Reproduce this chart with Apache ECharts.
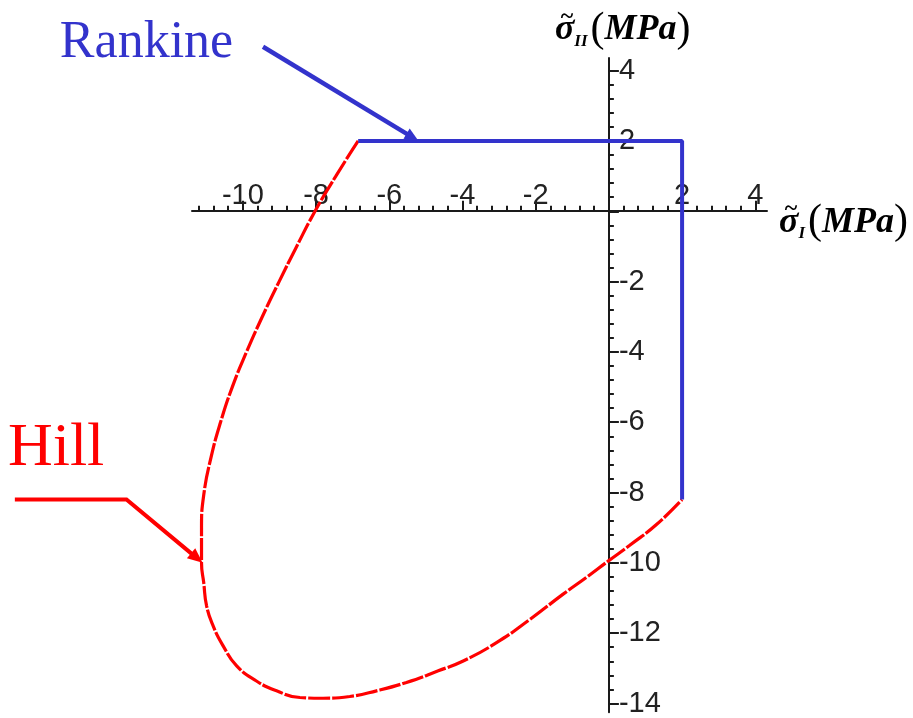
<!DOCTYPE html>
<html>
<head>
<meta charset="utf-8">
<script src="https://cdn.jsdelivr.net/npm/echarts@6/dist/echarts.min.js"></script>
<style>
  html, body { margin: 0; padding: 0; background: #ffffff; }
  #chart { width: 913px; height: 718px; }
</style>
</head>
<body>
<div id="chart"></div>
<script>
// Hill yield locus in the principal effective stress plane (MPa)
const hillSigmaI = [-6.85, -7.46, -8.03, -8.53, -9.01, -9.47, -9.90, -10.29, -10.61, -10.87,
  -11.06, -11.13, -11.13, -11.07, -10.99, -10.81, -10.54, -10.17, -9.63, -9.08,
  -8.44, -7.81, -7.08, -6.35, -5.53, -4.66, -3.98, -3.07, -2.16, -1.25,
  -0.61, -0.02, 0.57, 1.30, 2.0];
const hillSigmaII = [2.0, 1.0, 0.0, -1.0, -2.0, -3.0, -4.0, -5.0, -6.0, -7.0,
  -8.0, -9.0, -10.0, -10.56, -11.23, -11.80, -12.36, -12.93, -13.36, -13.64,
  -13.83, -13.85, -13.80, -13.64, -13.40, -13.07, -12.79, -12.27, -11.61, -10.89,
  -10.41, -9.95, -9.50, -8.91, -8.2];

// Rankine (maximum principal stress) locus
const rankineSigmaI = [-6.85, 2, 2];
const rankineSigmaII = [2, 2, -8.2];

// Axis tick labels
const xTickLabels = [-10, -8, -6, -4, -2, 2, 4];
const yTickLabels = [4, 2, -2, -4, -6, -8, -10, -12, -14];

// Annotation anchors (data units): arrow paths and label positions
const rankineArrow = [[-9.45, 4.68], [-5.2, 2.0]];
const hillArrow = [[-16.23, -8.2], [-13.18, -8.2], [-11.1, -10.0]];
const rankineLabelAt = [-15.0, 4.79];
const hillLabelAt = [-16.42, -6.75];

const xExtent = [-11.39, 4.32];
const yExtent = [-14.25, 4.36];

const BLUE = '#3333cc';
const RED = '#ff0000';
const INK = '#1a1a1a';

const GRID = { left: 192, right: 146, top: 58, bottom: 5 };
const W = 913, H = 718;

function stepValues(lo, hi, step) {
  const out = [];
  for (let k = Math.ceil(lo / step - 1e-9); k * step <= hi + 1e-9; k++) {
    out.push(Math.round(k * step * 10) / 10);
  }
  return out;
}
const pairs = (xs, ys) => xs.map((v, i) => [v, ys[i]]);

// The axes cross at the origin: shift each axis from the grid edge to the zero line.
const gridW = W - GRID.left - GRID.right;
const gridH = H - GRID.top - GRID.bottom;
const xAxisShift = -gridH * (0 - yExtent[0]) / (yExtent[1] - yExtent[0]);
const yAxisShift = -gridW * (0 - xExtent[0]) / (xExtent[1] - xExtent[0]);

const labelFont = { fontFamily: 'Liberation Sans', fontSize: 29, color: '#222', lineHeight: 29 };

function makeAxis(extent, position, shift, labels, major, minor) {
  const lineStyle = { color: INK, width: 2 };
  return [
    {
      type: 'value', position, offset: shift, min: extent[0], max: extent[1],
      splitLine: { show: false },
      axisLine: { show: true, onZero: false, lineStyle },
      axisTick: { show: true, inside: true, length: 10, customValues: major, lineStyle },
      axisLabel: Object.assign({ show: true, inside: true, margin: position === 'bottom' ? 0 : 10, customValues: labels }, labelFont)
    },
    {
      type: 'value', position, offset: shift, min: extent[0], max: extent[1],
      splitLine: { show: false },
      axisLine: { show: false, onZero: false },
      axisTick: { show: true, inside: true, length: 5, customValues: minor, lineStyle },
      axisLabel: { show: false }
    }
  ];
}

const option = {
  backgroundColor: '#ffffff',
  animation: false,
  grid: Object.assign({ containLabel: false }, GRID),
  xAxis: makeAxis(xExtent, 'bottom', xAxisShift, xTickLabels, stepValues(-10, 4, 2), stepValues(xExtent[0], xExtent[1], 0.4)),
  yAxis: makeAxis(yExtent, 'left', yAxisShift, yTickLabels, stepValues(-14, 4, 2), stepValues(yExtent[0], yExtent[1], 0.4)),
  series: [
    {
      name: 'Hill', type: 'line', xAxisIndex: 0, yAxisIndex: 0,
      data: pairs(hillSigmaI, hillSigmaII),
      showSymbol: false, smooth: 0.5, clip: false,
      lineStyle: { color: RED, width: 3.2, type: [22, 2] },
      z: 3
    },
    {
      name: 'Rankine', type: 'line', xAxisIndex: 0, yAxisIndex: 0,
      data: pairs(rankineSigmaI, rankineSigmaII),
      showSymbol: false, clip: false,
      lineStyle: { color: BLUE, width: 4 },
      z: 4
    }
  ]
};

const chart = echarts.init(document.getElementById('chart'), null, { renderer: 'canvas' });
chart.setOption(option);

const toPx = p => chart.convertToPixel({ seriesIndex: 0 }, p);

function arrow(path, color, width, headLen, headHalf) {
  const pts = path.map(toPx);
  const tip = pts[pts.length - 1];
  const prev = pts[pts.length - 2];
  const dx = tip[0] - prev[0], dy = tip[1] - prev[1];
  const len = Math.hypot(dx, dy);
  const ux = dx / len, uy = dy / len;
  const nx = -uy, ny = ux;
  const base = [tip[0] - ux * headLen, tip[1] - uy * headLen];
  const shaft = pts.slice(0, -1).concat([[tip[0] - ux * headLen * 0.6, tip[1] - uy * headLen * 0.6]]);
  return [
    { type: 'polyline', shape: { points: shaft }, style: { stroke: color, lineWidth: width, fill: null, lineJoin: 'miter' }, z: 10 },
    { type: 'polygon', shape: { points: [tip, [base[0] + nx * headHalf, base[1] + ny * headHalf], [base[0] - nx * headHalf, base[1] - ny * headHalf]] }, style: { fill: color }, z: 10 }
  ];
}

const rLabel = toPx(rankineLabelAt);
const hLabel = toPx(hillLabelAt);
const yTop = toPx([0, yExtent[1]]);
const xEnd = toPx([xExtent[1], 0]);

const serif = 'Liberation Serif';
const titleRich = {
  s: { fontFamily: serif, fontStyle: 'italic', fontWeight: 'bold', fontSize: 36, fill: '#000' },
  sub: { fontFamily: serif, fontStyle: 'italic', fontWeight: 'bold', fontSize: 17, verticalAlign: 'bottom', padding: [0, 3, 2, 0], fill: '#000' },
  p: { fontFamily: serif, fontSize: 42, lineHeight: 44, fill: '#000' },
  m: { fontFamily: serif, fontStyle: 'italic', fontWeight: 'bold', fontSize: 36, fill: '#000' }
};

// Axis title: sigma with a tilde accent, subscript, and unit
function axisTitle(x, y, sub) {
  return [
    { type: 'text', x, y, z: 10,
      style: { text: '{s|σ}{sub|' + sub + '}{p|(}{m|MPa}{p|)}', rich: titleRich, verticalAlign: 'middle', align: 'left' } },
    { type: 'text', x: x + 12, y: y - 13, z: 10,
      style: { text: '~', fill: '#000', font: 'bold 24px "Liberation Serif"', verticalAlign: 'middle', align: 'center' } }
  ];
}

chart.setOption({
  graphic: [
    ...arrow(rankineArrow, BLUE, 4.5, 14, 6),
    ...arrow(hillArrow, RED, 4, 15, 6.5),
    { type: 'text', x: rLabel[0], y: rLabel[1], z: 10,
      style: { text: 'Rankine', fill: BLUE, font: '52px "Liberation Serif"', verticalAlign: 'middle', align: 'left' } },
    { type: 'text', x: hLabel[0], y: hLabel[1], z: 10,
      style: { text: 'Hill', fill: RED, font: '62px "Liberation Serif"', verticalAlign: 'middle', align: 'left' } },
    ...axisTitle(yTop[0] - 54, yTop[1] - 28, 'II'),
    ...axisTitle(xEnd[0] + 12, xEnd[1] + 11, 'I')
  ]
});
</script>
</body>
</html>
